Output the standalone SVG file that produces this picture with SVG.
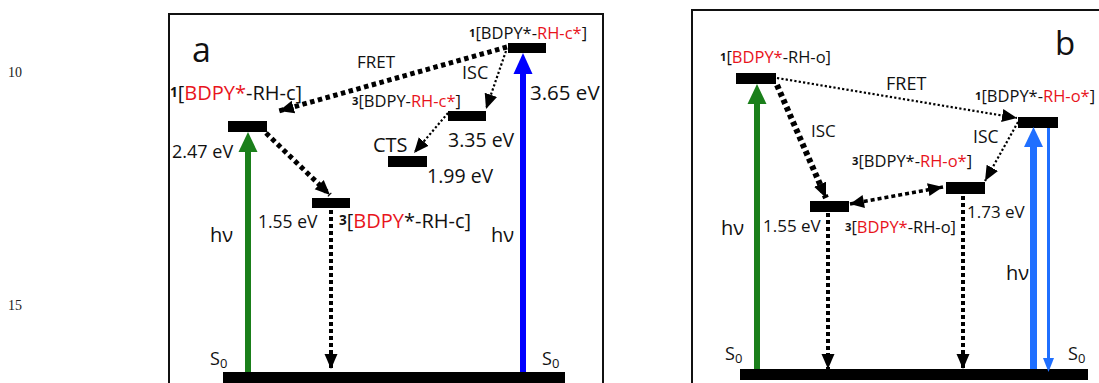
<svg xmlns="http://www.w3.org/2000/svg" width="1099" height="383" viewBox="0 0 1099 383">
<style>
text{font-family:"Open Sans","Liberation Sans",sans-serif;fill:#111}
.L{font-size:20px}
.S{font-size:16.5px}
.sup{font-size:0.68em;font-weight:bold}
.sub{font-size:13px}
.r{fill:#e8141c}
.ln{font-family:"Liberation Serif",serif;font-size:14px;fill:#222}
.bar{fill:#000}
.fr{fill:none;stroke:#111;stroke-width:2}
.thk{fill:none;stroke:#000;stroke-width:5;stroke-dasharray:4.5 3.5}
.thn{fill:none;stroke:#000;stroke-width:2.2;stroke-dasharray:2.2 2.2}
.vrt{fill:none;stroke:#000;stroke-width:4;stroke-dasharray:4 3}
</style>
<defs>
<marker id="ah" markerUnits="userSpaceOnUse" markerWidth="16" markerHeight="16" viewBox="0 0 16 16" refX="15" refY="8" orient="auto"><path d="M0,1.5 L15,8 L0,14.5 Z" fill="#000"/></marker>
<marker id="ahs" markerUnits="userSpaceOnUse" markerWidth="16" markerHeight="16" viewBox="0 0 16 16" refX="1" refY="8" orient="auto"><path d="M15,1.5 L1,8 L15,14.5 Z" fill="#000"/></marker>
</defs>
<text class="ln" x="8" y="77">10</text>
<text class="ln" x="8" y="310">15</text>
<g id="frames">
<path class="fr" d="M169,400 V14 H603 V400"/>
<path class="fr" d="M692,400 V10 H1105"/>
</g>
<g id="panel-a">
<text x="192" y="62" style="font-size:34px">a</text>
<g id="a-S0"><rect class="bar" x="223" y="372" width="342" height="12"/>
<text style="font-size:18px" x="210" y="365">S<tspan class="sub" dy="3">0</tspan></text>
<text style="font-size:18px" x="542" y="365">S<tspan class="sub" dy="3">0</tspan></text></g>
<g id="a-S1"><rect class="bar" x="228" y="121" width="39" height="11"/>
<text class="L" x="170" y="100"><tspan class="sup" dy="-3">1</tspan><tspan dy="3">[</tspan><tspan class="r">BDPY*</tspan>-RH-c]</text>
<text style="font-size:18px" x="172" y="158">2.47 eV</text></g>
<g id="a-T1"><rect class="bar" x="312" y="198" width="38" height="10"/>
<text style="font-size:17.5px" x="258" y="228">1.55 eV</text>
<text class="L" x="339" y="228"><tspan class="sup" dy="-3">3</tspan><tspan dy="3">[</tspan><tspan class="r">BDPY</tspan>*-RH-c]</text></g>
<g id="a-S1c"><rect class="bar" x="508" y="43" width="38" height="10"/>
<text class="S" x="469" y="39"><tspan class="sup" dy="-2.5">1</tspan><tspan dy="2.5">[</tspan>BDPY*-<tspan class="r">RH-c*</tspan>]</text>
<text style="font-size:20.5px" x="530" y="100">3.65 eV</text></g>
<g id="a-T1c"><rect class="bar" x="448" y="111" width="38" height="10"/>
<text class="S" x="352" y="107"><tspan class="sup" dy="-2.5">3</tspan><tspan dy="2.5">[</tspan>BDPY-<tspan class="r">RH-c*</tspan>]</text>
<text style="font-size:19.5px" x="448" y="147">3.35 eV</text></g>
<g id="a-CTS"><rect class="bar" x="388" y="156" width="39" height="11"/>
<text class="L" x="373" y="152">CTS</text>
<text style="font-size:19.5px" x="427" y="183">1.99 eV</text></g>
<text style="font-size:20px" x="210" y="242">hν</text>
<text style="font-size:20px" x="491" y="242">hν</text>
<text style="font-size:17px" x="357" y="68">FRET</text>
<text style="font-size:18px" x="462" y="79">ISC</text>
</g>
<g id="panel-b">
<text x="1055" y="55" style="font-size:33px">b</text>
<g id="b-S0"><rect class="bar" x="740" y="369" width="348" height="11"/>
<text style="font-size:18px" x="725" y="360">S<tspan class="sub" dy="3">0</tspan></text>
<text style="font-size:18px" x="1068" y="360">S<tspan class="sub" dy="3">0</tspan></text></g>
<g id="b-S1"><rect class="bar" x="736" y="73" width="40" height="11"/>
<text class="S" x="720" y="63"><tspan class="sup" dy="-2.5">1</tspan><tspan dy="2.5">[</tspan><tspan class="r">BDPY*</tspan>-RH-o]</text></g>
<g id="b-T1"><rect class="bar" x="810" y="201" width="39" height="11"/>
<text style="font-size:17px" x="763" y="232">1.55 eV</text>
<text class="S" x="845" y="233"><tspan class="sup" dy="-2.5">3</tspan><tspan dy="2.5">[</tspan><tspan class="r">BDPY*</tspan>-RH-o]</text></g>
<g id="b-S1o"><rect class="bar" x="1018" y="117" width="40" height="11"/>
<text class="S" x="975" y="102"><tspan class="sup" dy="-2.5">1</tspan><tspan dy="2.5">[</tspan>BDPY*-<tspan class="r">RH-o*</tspan>]</text></g>
<g id="b-T1o"><rect class="bar" x="946" y="182" width="39" height="12"/>
<text class="S" x="852" y="167"><tspan class="sup" dy="-2.5">3</tspan><tspan dy="2.5">[</tspan>BDPY*-<tspan class="r">RH-o*</tspan>]</text>
<text style="font-size:17px" x="967" y="218">1.73 eV</text></g>
<text style="font-size:20px" x="721" y="235">hν</text>
<text style="font-size:20px" x="1006" y="280">hν</text>
<text style="font-size:18px" x="886" y="90">FRET</text>
<text style="font-size:17px" x="811" y="137">ISC</text>
<text style="font-size:17.5px" x="973" y="143">ISC</text>
</g>
<g id="connectors">
<line x1="248" y1="372" x2="248" y2="150" stroke="#1a7f1a" stroke-width="6"/>
<path d="M238.5,152 L248,132 L257.5,152 Z" fill="#1a7f1a"/>
<line x1="523" y1="372" x2="523" y2="72" stroke="#0000ff" stroke-width="6"/>
<path d="M513.5,74 L523,53 L532.5,74 Z" fill="#0000ff"/>
<line class="thk" x1="507" y1="47" x2="279" y2="111" marker-end="url(#ah)"/>
<line class="thn" x1="506" y1="51" x2="486" y2="109" marker-end="url(#ah)"/>
<line class="thn" x1="448" y1="113" x2="414" y2="153" marker-end="url(#ah)"/>
<line class="thk" x1="266" y1="133" x2="330" y2="195" marker-end="url(#ah)"/>
<line class="vrt" x1="331" y1="210" x2="331" y2="369" marker-end="url(#ah)"/>
<line x1="757" y1="369" x2="757" y2="102" stroke="#1a7f1a" stroke-width="6"/>
<path d="M747.5,104 L757,84 L766.5,104 Z" fill="#1a7f1a"/>
<line x1="1033.5" y1="369" x2="1033.5" y2="145" stroke="#1f6fff" stroke-width="7"/>
<path d="M1024,147 L1033.5,127 L1043,147 Z" fill="#1f6fff"/>
<line x1="1048.5" y1="128" x2="1048.5" y2="360" stroke="#1f6fff" stroke-width="3"/>
<path d="M1043,358 L1048.5,372 L1054,358 Z" fill="#1f6fff"/>
<line class="thk" x1="777" y1="85" x2="826" y2="198" marker-end="url(#ah)" style="stroke-width:6"/>
<line class="thn" x1="777" y1="78" x2="1017" y2="118" marker-end="url(#ah)"/>
<line class="thn" x1="1018" y1="122" x2="985" y2="181" marker-end="url(#ah)"/>
<line class="vrt" x1="850" y1="204" x2="943" y2="187" marker-start="url(#ahs)" marker-end="url(#ah)" style="stroke-width:3.5"/>
<line class="vrt" x1="828" y1="213" x2="828" y2="369" marker-end="url(#ah)"/>
<line class="vrt" x1="963" y1="196" x2="963" y2="369" marker-end="url(#ah)"/>
</g>
</svg>
